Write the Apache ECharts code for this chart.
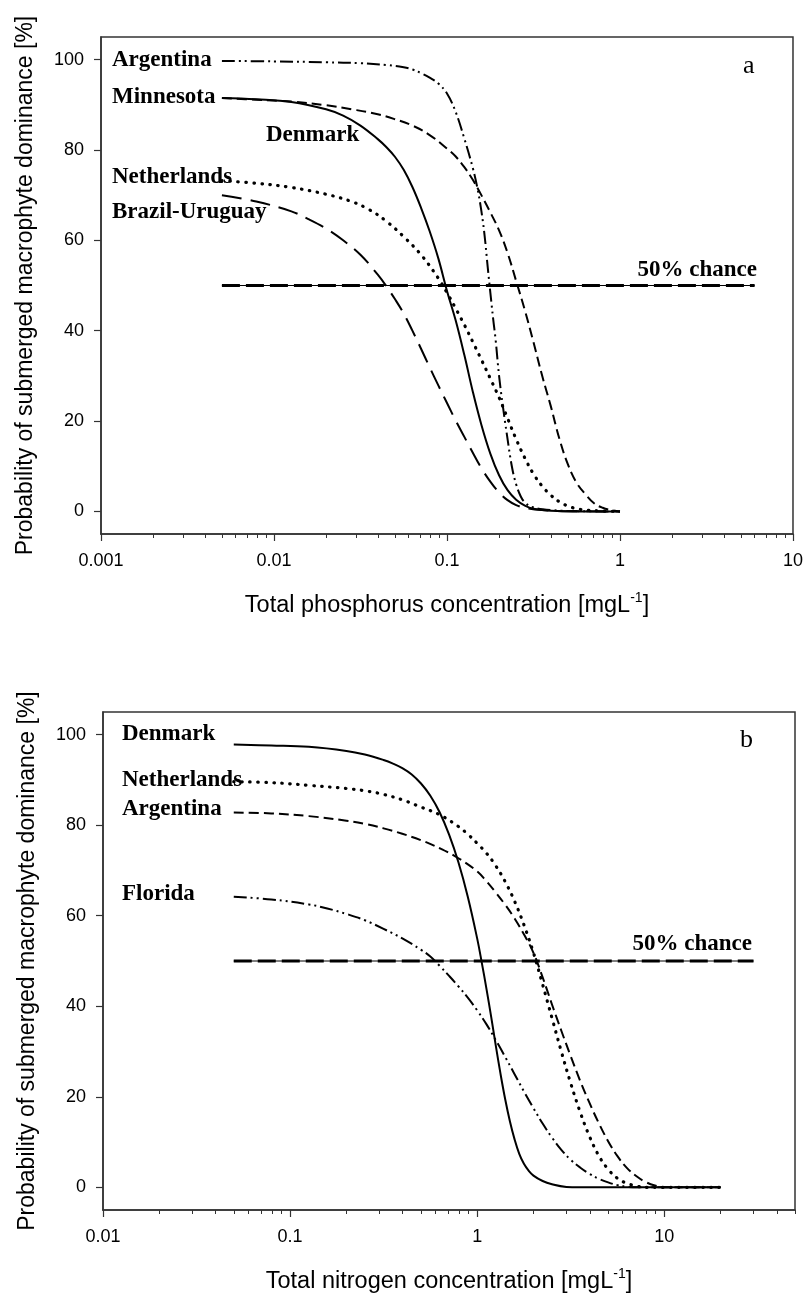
<!DOCTYPE html>
<html>
<head>
<meta charset="utf-8">
<script src="https://cdn.jsdelivr.net/npm/echarts@6/dist/echarts.min.js"></script>
<style>
html,body{margin:0;padding:0;background:#fff;}
#chart{width:806px;height:1299px;}
</style>
</head>
<body>
<div id="chart"></div>
<script>
// ---------- Panel a: total phosphorus (mg/L) ----------
const tpTickValues = [0.001, 0.01, 0.1, 1, 10];
const tpTickLabels = ['0.001', '0.01', '0.1', '1', '10'];

const tpArgentinaX = [0.005, 0.01, 0.02, 0.0316, 0.0447, 0.0562, 0.0631, 0.0708, 0.0794, 0.0891, 0.1, 0.112, 0.126, 0.141, 0.15, 0.158, 0.165, 0.172, 0.178, 0.185, 0.191, 0.2, 0.21, 0.222, 0.237, 0.251, 0.267, 0.282, 0.309, 0.398, 0.6, 1];
const tpArgentinaY = [99.7, 99.6, 99.4, 99.2, 98.8, 98.3, 97.8, 97.0, 96.0, 94.7, 92.5, 88.5, 82.5, 76.0, 71.5, 66.5, 61.0, 54.0, 48.5, 42.5, 38.0, 30.0, 23.5, 17.0, 10.0, 6.0, 3.3, 2.0, 1.0, 0.3, 0.05, 0];

const tpMinnesotaX = [0.005, 0.0079, 0.0126, 0.02, 0.0282, 0.0398, 0.05, 0.0631, 0.0794, 0.1, 0.112, 0.126, 0.141, 0.158, 0.178, 0.2, 0.224, 0.251, 0.282, 0.316, 0.355, 0.398, 0.447, 0.5, 0.562, 0.631, 0.708, 0.794, 0.891, 1];
const tpMinnesotaY = [91.5, 91.1, 90.7, 89.9, 89.0, 87.9, 86.8, 85.4, 83.3, 80.3, 78.6, 76.2, 73.4, 70.0, 66.2, 62.2, 57.2, 51.0, 44.5, 37.5, 30.0, 23.3, 16.0, 10.4, 6.3, 3.8, 1.8, 0.8, 0.3, 0];

const tpDenmarkX = [0.005, 0.0079, 0.0126, 0.02, 0.0251, 0.0316, 0.0398, 0.0447, 0.05, 0.0562, 0.0631, 0.0708, 0.0794, 0.0891, 0.1, 0.112, 0.126, 0.141, 0.158, 0.178, 0.2, 0.224, 0.251, 0.282, 0.316, 0.398, 0.6, 1];
const tpDenmarkY = [91.5, 91.2, 90.6, 89.0, 87.6, 85.4, 82.4, 80.6, 78.5, 75.6, 71.8, 67.2, 62.0, 56.0, 48.8, 42.4, 34.6, 26.5, 19.2, 12.8, 8.0, 4.7, 2.6, 1.3, 0.6, 0.15, 0, 0];

const tpNetherlandsX = [0.005, 0.008, 0.0126, 0.02, 0.028, 0.0355, 0.0447, 0.0562, 0.0708, 0.0891, 0.1, 0.112, 0.126, 0.141, 0.158, 0.178, 0.2, 0.224, 0.251, 0.282, 0.316, 0.355, 0.398, 0.447, 0.5, 0.562, 0.631, 0.794, 1];
const tpNetherlandsY = [73.2, 72.6, 71.7, 70.2, 68.6, 66.8, 64.2, 60.8, 56.8, 51.6, 48.4, 45.0, 41.3, 37.5, 33.6, 29.4, 25.2, 20.6, 16.0, 11.8, 8.3, 5.6, 3.6, 2.1, 1.2, 0.6, 0.3, 0.1, 0];

const tpBrazilX = [0.005, 0.0079, 0.0126, 0.0158, 0.02, 0.0251, 0.0316, 0.0398, 0.0447, 0.05, 0.0562, 0.0631, 0.0708, 0.0794, 0.0891, 0.1, 0.112, 0.126, 0.141, 0.158, 0.178, 0.2, 0.224, 0.251, 0.282, 0.355, 0.5, 1];
const tpBrazilY = [70.0, 68.6, 66.4, 64.7, 62.6, 60.0, 56.8, 52.4, 49.8, 47.0, 43.8, 40.0, 36.0, 31.9, 27.9, 24.0, 20.2, 16.5, 13.0, 9.6, 6.6, 4.2, 2.5, 1.4, 0.8, 0.3, 0.05, 0];

const tpChanceX = [0.005, 6];
const tpChanceY = [50, 50];

// ---------- Panel b: total nitrogen (mg/L) ----------
const tnTickValues = [0.01, 0.1, 1, 10];
const tnTickLabels = ['0.01', '0.1', '1', '10'];

const tnDenmarkX = [0.05, 0.0794, 0.126, 0.2, 0.251, 0.316, 0.355, 0.398, 0.447, 0.501, 0.562, 0.631, 0.708, 0.794, 0.891, 1.0, 1.059, 1.122, 1.189, 1.259, 1.334, 1.413, 1.496, 1.585, 1.679, 1.778, 1.884, 2.0, 2.239, 2.512, 3.0, 3.5, 20];
const tnDenmarkY = [97.8, 97.6, 97.3, 96.4, 95.6, 94.4, 93.6, 92.6, 91.2, 89.2, 86.5, 82.8, 77.9, 71.8, 64.2, 55.0, 49.6, 43.8, 37.6, 31.2, 25.0, 19.4, 14.6, 10.6, 7.4, 5.2, 3.7, 2.6, 1.4, 0.7, 0.1, 0, 0];

const tnNetherlandsX = [0.05, 0.0794, 0.126, 0.2, 0.251, 0.316, 0.398, 0.5, 0.631, 0.794, 0.891, 1.0, 1.122, 1.259, 1.413, 1.585, 1.778, 2.0, 2.239, 2.512, 2.818, 3.162, 3.548, 3.981, 4.467, 5.012, 5.623, 6.31, 7.08, 8.0, 20];
const tnNetherlandsY = [89.6, 89.4, 88.8, 88.1, 87.6, 86.8, 85.6, 84.0, 82.3, 79.7, 78.0, 76.0, 73.8, 71.0, 67.5, 63.2, 58.0, 51.8, 44.8, 37.4, 30.0, 23.0, 16.7, 11.3, 7.0, 4.0, 2.0, 0.9, 0.3, 0, 0];

const tnArgentinaX = [0.05, 0.0794, 0.126, 0.2, 0.251, 0.316, 0.398, 0.5, 0.631, 0.794, 1.0, 1.122, 1.259, 1.413, 1.585, 1.778, 2.0, 2.239, 2.512, 2.818, 3.162, 3.548, 3.981, 4.467, 5.012, 5.623, 6.31, 7.08, 7.94, 8.91, 10, 20];
const tnArgentinaY = [82.8, 82.6, 82.0, 81.0, 80.3, 79.3, 78.1, 76.7, 74.9, 72.7, 69.8, 67.6, 65.1, 62.4, 59.4, 55.9, 51.8, 46.4, 40.4, 34.6, 29.0, 23.6, 18.7, 14.2, 10.2, 6.9, 4.3, 2.5, 1.2, 0.4, 0, 0];

const tnFloridaX = [0.05, 0.0794, 0.126, 0.158, 0.2, 0.251, 0.316, 0.398, 0.5, 0.562, 0.631, 0.708, 0.794, 0.891, 1.0, 1.122, 1.259, 1.413, 1.585, 1.778, 2.0, 2.239, 2.512, 2.818, 3.162, 3.548, 3.981, 4.467, 5.012, 5.623, 6.31, 7.15, 20];
const tnFloridaY = [64.2, 63.6, 62.5, 61.6, 60.4, 59.0, 57.1, 55.0, 52.5, 51.0, 48.9, 46.7, 44.4, 41.9, 39.1, 36.0, 32.5, 28.8, 25.0, 21.2, 17.5, 14.1, 11.0, 8.3, 6.1, 4.4, 3.0, 1.9, 1.1, 0.5, 0.15, 0, 0];

const tnChanceX = [0.05, 30];
const tnChanceY = [50, 50];

const yTickValues = [0, 20, 40, 60, 80, 100];

// ---------- helpers ----------
const toPts = (xs, ys) => xs.map((c, i) => [Math.log10(c), ys[i]]);
const minorTicks = (d0, d1, maxV) => {
  const out = [];
  for (let d = d0; d < d1; d++) {
    for (let k = 2; k <= 9; k++) {
      const v = Math.log10(k * Math.pow(10, d));
      if (v <= maxV + 1e-9) out.push(v);
    }
  }
  return out;
};

const SOLID = { type: 'solid' };
const DASH = { type: [10, 5] };
const LONGDASH = { type: [20, 9] };
const DOT = { type: [0.5, 7.5], cap: 'round', width: 3.2 };
const DASHDOTDOT = { type: [13, 4, 2, 4, 2, 4] };

function line(name, xs, ys, style, gi) {
  return {
    name, type: 'line', xAxisIndex: gi * 2, yAxisIndex: gi,
    data: toPts(xs, ys), symbol: 'none', smooth: 0.4,
    silent: true, animation: false, clip: true,
    lineStyle: Object.assign({ color: '#000', width: 2, cap: 'butt', join: 'round' }, style)
  };
}
function chanceLines(xs, ys, gi) {
  return [
    { type: 'line', xAxisIndex: gi * 2, yAxisIndex: gi, data: toPts(xs, ys), symbol: 'none', silent: true, animation: false,
      lineStyle: { color: '#000', width: 1, type: 'solid' } },
    { type: 'line', xAxisIndex: gi * 2, yAxisIndex: gi, data: toPts(xs, ys), symbol: 'none', silent: true, animation: false,
      lineStyle: { color: '#000', width: 3, type: [18, 6] } }
  ];
}

const axisFont = { fontFamily: '"Liberation Sans", Arial, sans-serif', color: '#000' };

function xAxes(gi, minV, maxV, tickVals, tickLabs, title, minorList) {
  const major = tickVals.map(v => Math.log10(v));
  return [
    {
      gridIndex: gi, type: 'value', min: minV, max: maxV, position: 'bottom',
      axisLine: { show: true, onZero: false, lineStyle: { color: '#333', width: 1.5 } },
      axisTick: { show: true, length: 7, customValues: major, lineStyle: { color: '#333', width: 1.2 } },
      axisLabel: {
        show: true, customValues: major, margin: 18, fontSize: 18, ...axisFont,
        formatter: v => { const i = major.findIndex(m => Math.abs(m - v) < 1e-6); return i >= 0 ? tickLabs[i] : ''; }
      },
      splitLine: { show: false },
      name: title, nameLocation: 'middle', nameGap: 57,
      nameTextStyle: {
        fontSize: 23.5, ...axisFont,
        rich: { sup: { fontSize: 14, fontFamily: '"Liberation Sans", Arial, sans-serif', color: '#000', padding: [0, 0, 15, 0] } }
      }
    },
    {
      gridIndex: gi, type: 'value', min: minV, max: maxV, position: 'bottom', offset: 0,
      axisLine: { show: false, onZero: false },
      axisTick: { show: true, length: 4, customValues: minorList, lineStyle: { color: '#333', width: 1 } },
      axisLabel: { show: false },
      splitLine: { show: false }
    }
  ];
}

function yAxis(gi) {
  return {
    gridIndex: gi, type: 'value', min: -5, max: 105,
    axisLine: { show: true, onZero: false, lineStyle: { color: '#333', width: 1.5 } },
    axisTick: { show: true, length: 7, customValues: yTickValues, lineStyle: { color: '#333', width: 1.2 } },
    axisLabel: { show: true, customValues: yTickValues, margin: 17, fontSize: 18, ...axisFont },
    splitLine: { show: false },
    name: 'Probability of submerged macrophyte dominance [%]',
    nameLocation: 'middle', nameGap: 64, nameRotate: 90,
    nameTextStyle: { fontSize: 23, ...axisFont }
  };
}

const boldFont = 'bold 23px "Liberation Serif", "Times New Roman", serif';
function label(text, x, y, align) {
  return { type: 'text', x, y, silent: true, z: 100,
    style: { text, font: boldFont, fill: '#000', align: align || 'left', verticalAlign: 'middle' } };
}

const chart = echarts.init(document.getElementById('chart'), null, { renderer: 'canvas' });
chart.setOption({
  animation: false,
  backgroundColor: '#fff',
  grid: [
    { left: 101, top: 37, width: 694, height: 497, show: true, borderColor: '#333', borderWidth: 1.5, backgroundColor: 'transparent' },
    { left: 103, top: 712, width: 692, height: 498, show: true, borderColor: '#333', borderWidth: 1.5, backgroundColor: 'transparent' }
  ],
  xAxis: [
    ...xAxes(0, -3, 1, tpTickValues, tpTickLabels, 'Total phosphorus concentration [mgL{sup|-1}]', minorTicks(-3, 1, 1)),
    ...xAxes(1, -2, Math.log10(50), tnTickValues, tnTickLabels, 'Total nitrogen concentration [mgL{sup|-1}]', minorTicks(-2, 2, Math.log10(50)))
  ],
  yAxis: [yAxis(0), yAxis(1)],
  series: [
    ...chanceLines(tpChanceX, tpChanceY, 0),
    line('Argentina', tpArgentinaX, tpArgentinaY, DASHDOTDOT, 0),
    line('Minnesota', tpMinnesotaX, tpMinnesotaY, DASH, 0),
    line('Denmark', tpDenmarkX, tpDenmarkY, SOLID, 0),
    line('Netherlands', tpNetherlandsX, tpNetherlandsY, DOT, 0),
    line('Brazil-Uruguay', tpBrazilX, tpBrazilY, LONGDASH, 0),
    ...chanceLines(tnChanceX, tnChanceY, 1),
    line('Denmark', tnDenmarkX, tnDenmarkY, SOLID, 1),
    line('Netherlands', tnNetherlandsX, tnNetherlandsY, DOT, 1),
    line('Argentina', tnArgentinaX, tnArgentinaY, DASH, 1),
    line('Florida', tnFloridaX, tnFloridaY, DASHDOTDOT, 1)
  ],
  graphic: [
    label('Argentina', 112, 60),
    label('Minnesota', 112, 97),
    label('Denmark', 266, 135),
    label('Netherlands', 112, 177),
    label('Brazil-Uruguay', 112, 212),
    label('50% chance', 757, 270, 'right'),
    { type: 'text', x: 743, y: 66, silent: true, style: { text: 'a', font: '26px "Liberation Serif", serif', fill: '#000', verticalAlign: 'middle' } },
    label('Denmark', 122, 734),
    label('Netherlands', 122, 780),
    label('Argentina', 122, 809),
    label('Florida', 122, 894),
    label('50% chance', 752, 944, 'right'),
    { type: 'text', x: 740, y: 740, silent: true, style: { text: 'b', font: '26px "Liberation Serif", serif', fill: '#000', verticalAlign: 'middle' } }
  ]
});
</script>
</body>
</html>
